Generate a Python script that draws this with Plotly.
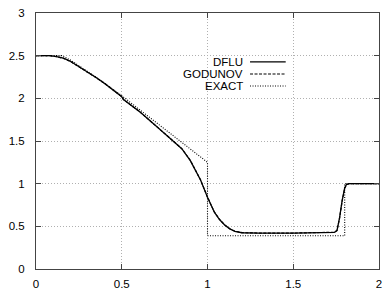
import plotly.graph_objects as go

# Numerical solutions
x_num = [0.00, 0.08, 0.12, 0.16, 0.20, 0.25, 0.30, 0.35, 0.40, 0.45, 0.48, 0.50, 0.51, 0.53,
         0.60, 0.70, 0.75, 0.80, 0.85, 0.90, 0.93, 0.96, 1.00, 1.04, 1.07, 1.10, 1.13, 1.16,
         1.20, 1.30, 1.50, 1.70, 1.74, 1.755, 1.77, 1.785, 1.80, 1.81, 1.825, 2.00]
y_dflu = [2.500, 2.500, 2.490, 2.470, 2.435, 2.375, 2.310, 2.245, 2.175, 2.100, 2.055, 2.020, 1.985, 1.955,
          1.850, 1.675, 1.585, 1.500, 1.410, 1.270, 1.160, 1.040, 0.840, 0.665, 0.580, 0.515, 0.470, 0.442,
          0.425, 0.420, 0.420, 0.425, 0.430, 0.450, 0.600, 0.800, 0.950, 0.990, 1.000, 1.000]
y_godunov = [2.500, 2.500, 2.489, 2.468, 2.433, 2.373, 2.308, 2.243, 2.174, 2.099, 2.054, 2.019, 1.986, 1.956,
             1.851, 1.676, 1.586, 1.501, 1.411, 1.272, 1.162, 1.042, 0.842, 0.668, 0.582, 0.517, 0.471, 0.443,
             0.426, 0.421, 0.421, 0.426, 0.431, 0.452, 0.595, 0.795, 0.945, 0.988, 1.000, 1.000]

# Exact solution
x_exact = [0.00, 0.15, 0.20, 0.30, 0.40, 0.50, 1.00, 1.00, 1.80, 1.80, 2.00]
y_exact = [2.50, 2.50, 2.45, 2.32, 2.18, 2.03, 1.25, 0.39, 0.39, 1.00, 1.00]

x_ticks = [0, 0.5, 1, 1.5, 2]
x_ticklabels = ["0", "0.5", "1", "1.5", "2"]
y_ticks = [0, 0.5, 1, 1.5, 2, 2.5, 3]
y_ticklabels = ["0", "0.5", "1", "1.5", "2", "2.5", "3"]
legend_names = ["DFLU", "GODUNOV", "EXACT"]
legend_dash = ["solid", "3px,1.5px", "1px,1.5px"]

FONT = "Liberation Sans, Arial, sans-serif"

fig = go.Figure()
fig.add_trace(go.Scatter(x=x_exact, y=y_exact, mode="lines", name="EXACT",
                         line=dict(color="black", width=1.1, dash="1px,1.5px")))
fig.add_trace(go.Scatter(x=x_num, y=y_godunov, mode="lines", name="GODUNOV",
                         line=dict(color="black", width=1.2, dash="3px,1.5px")))
fig.add_trace(go.Scatter(x=x_num, y=y_dflu, mode="lines", name="DFLU",
                         line=dict(color="black", width=1.3)))

axis_common = dict(showgrid=True, gridcolor="#b0b0b0", griddash="1px,2px", gridwidth=1,
                   showline=True, linecolor="#444444", linewidth=1, mirror="ticks",
                   ticks="inside", ticklen=5, tickcolor="#444444", zeroline=False,
                   automargin=False,
                   tickfont=dict(family=FONT, size=11.5, color="black"))

fig.update_xaxes(range=[0, 2], tickvals=x_ticks, ticktext=x_ticklabels, ticklabelstandoff=4, **axis_common)
fig.update_yaxes(range=[0, 3], tickvals=y_ticks, ticktext=y_ticklabels, ticklabelstandoff=8, **axis_common)

# gnuplot-style legend: text on the left, line sample on the right
rows_y = [0.809, 0.762, 0.715]
for name, dash, yy in zip(legend_names, legend_dash, rows_y):
    fig.add_annotation(xref="paper", yref="paper", x=0.605, y=yy, text=name, showarrow=False,
                       xanchor="right", yanchor="middle", borderpad=0,
                       font=dict(family=FONT, size=11.5, color="black"))
    fig.add_shape(type="line", xref="paper", yref="paper", x0=0.624, x1=0.728, y0=yy, y1=yy,
                  line=dict(color="black", width=1.1, dash=dash))

fig.update_layout(width=392, height=296, margin=dict(l=36, r=13, t=13, b=27, autoexpand=False),
                  plot_bgcolor="white", paper_bgcolor="white", showlegend=False)

fig.write_html("out.html", config={"displayModeBar": False},
               post_script="document.body.style.margin='0';document.body.style.overflow='hidden';")
